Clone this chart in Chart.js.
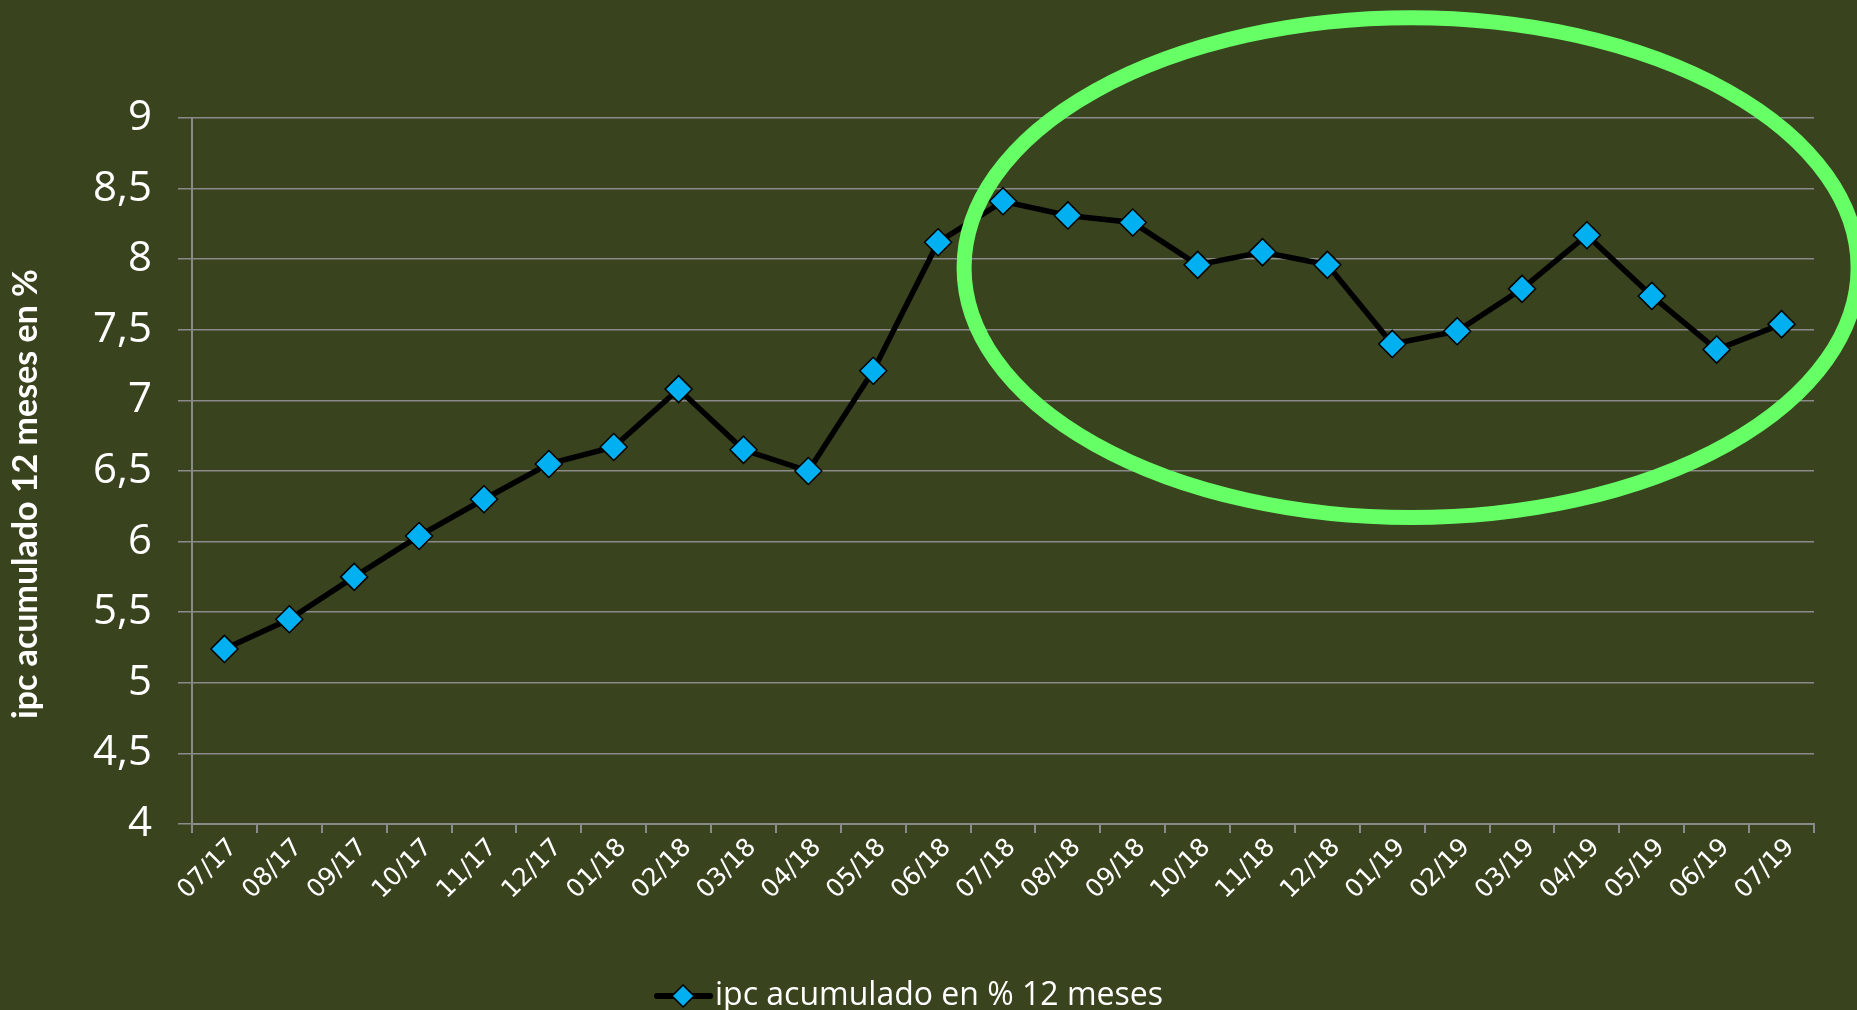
<!DOCTYPE html>
<html lang="es">
<head>
  <meta charset="UTF-8">
  <title>IPC acumulado 12 meses</title>
  <style>
    html, body {
      margin: 0;
      padding: 0;
      background-color: #39431e;
    }
    .chart-box {
      width: 1857px;
      height: 1010px;
    }
  </style>
</head>
<body>
  <div class="chart-box">
    <canvas id="ipcChart"></canvas>
  </div>
  <script src="https://cdn.jsdelivr.net/npm/chart.js"></script>
  <script>
    // Data
    const months = ['07/17', '08/17', '09/17', '10/17', '11/17', '12/17',
      '01/18', '02/18', '03/18', '04/18', '05/18', '06/18',
      '07/18', '08/18', '09/18', '10/18', '11/18', '12/18',
      '01/19', '02/19', '03/19', '04/19', '05/19', '06/19', '07/19'];
    const ipcValues = [5.24, 5.45, 5.75, 6.04, 6.30, 6.55,
      6.67, 7.08, 6.65, 6.50, 7.21, 8.12,
      8.41, 8.31, 8.26, 7.96, 8.05, 7.96,
      7.40, 7.49, 7.79, 8.17, 7.74, 7.36, 7.54];
    const yMin = 4;
    const yMax = 9;
    const yStep = 0.5;
    const seriesLabel = 'ipc acumulado en % 12 meses';
    const axisTitle = 'ipc acumulado 12 meses en %';

    // green ring round the last year (category index / value units)
    const ringCenterIndex = 18.29;
    const ringCenterValue = 7.94;
    const ringRadiusIndex = 6.89;
    const ringRadiusValue = 1.77;

    const gridColor = '#8a8a8a';
    const markerColor = '#00b0f0';

    // legend glyph: short black line with a blue diamond
    // (wider canvas so the glyph sits left of where Chart.js centres it)
    const legendGlyph = document.createElement('canvas');
    legendGlyph.width = 80;
    legendGlyph.height = 26;
    (function () {
      const g = legendGlyph.getContext('2d');
      g.strokeStyle = '#000';
      g.lineWidth = 6;
      g.lineCap = 'round';
      g.beginPath();
      g.moveTo(22, 13);
      g.lineTo(75, 13);
      g.stroke();
      g.beginPath();
      g.moveTo(48, 2);
      g.lineTo(59, 13);
      g.lineTo(48, 24);
      g.lineTo(37, 13);
      g.closePath();
      g.fillStyle = markerColor;
      g.fill();
      g.lineWidth = 1.5;
      g.stroke();
    })();

    const ringPlugin = {
      id: 'ring',
      afterDatasetsDraw(chart) {
        const { ctx, scales: { x, y } } = chart;
        const cx = x.getPixelForValue(ringCenterIndex);
        const cy = y.getPixelForValue(ringCenterValue);
        const rx = x.getPixelForValue(ringCenterIndex + ringRadiusIndex) - cx;
        const ry = cy - y.getPixelForValue(ringCenterValue + ringRadiusValue);
        ctx.save();
        ctx.strokeStyle = '#66ff66';
        ctx.lineWidth = 15;
        ctx.beginPath();
        ctx.ellipse(cx, cy, rx, ry, 0, 0, Math.PI * 2);
        ctx.stroke();
        ctx.restore();
      }
    };

    const axisTitlePlugin = {
      id: 'axisTitle',
      afterDraw(chart) {
        const ctx = chart.ctx;
        ctx.save();
        ctx.translate(26, 494);
        ctx.rotate(-Math.PI / 2);
        ctx.fillStyle = '#ffffff';
        ctx.font = 'bold 34px Lato, "Open Sans", sans-serif';
        ctx.textAlign = 'center';
        ctx.textBaseline = 'middle';
        ctx.fillText(axisTitle, 0, 0);
        ctx.restore();
      }
    };

    const ctxLine = document.getElementById('ipcChart').getContext('2d');
    new Chart(ctxLine, {
      type: 'line',
      data: {
        labels: months,
        datasets: [{
          label: seriesLabel,
          data: ipcValues,
          borderColor: '#000000',
          borderWidth: 5.5,
          tension: 0,
          pointStyle: 'rectRot',
          pointRadius: 13.5,
          pointBackgroundColor: markerColor,
          pointBorderColor: '#000000',
          pointBorderWidth: 1.5
        }]
      },
      options: {
        responsive: true,
        maintainAspectRatio: false,
        animation: false,
        layout: {
          padding: { left: 0, right: 43, top: 118, bottom: -12 }
        },
        scales: {
          x: {
            offset: true,
            grid: {
              offset: true,
              drawOnChartArea: false,
              tickLength: 9,
              color: gridColor,
              lineWidth: 2
            },
            border: { color: gridColor, width: 2 },
            ticks: {
              color: '#ffffff',
              font: { family: '"DejaVu Sans"', size: 25 },
              maxRotation: 45,
              minRotation: 45,
              autoSkip: false,
              padding: 0,
              labelOffset: 9
            },
            afterFit(scale) { scale.height = 156; }
          },
          y: {
            min: yMin,
            max: yMax,
            ticks: {
              stepSize: yStep,
              color: '#ffffff',
              font: { family: '"Open Sans"', size: 42 },
              padding: 26,
              callback: v => String(v).replace('.', ',')
            },
            grid: {
              color: gridColor,
              lineWidth: 1.5,
              tickLength: 14
            },
            border: { color: gridColor, width: 2 },
            afterFit(scale) { scale.width = 192; }
          }
        },
        plugins: {
          legend: {
            position: 'bottom',
            labels: {
              color: '#ffffff',
              font: { family: '"Open Sans"', size: 32 },
              usePointStyle: true,
              pointStyle: legendGlyph,
              pointStyleWidth: 48,
              padding: 0
            }
          },
          tooltip: { enabled: false }
        }
      },
      plugins: [ringPlugin, axisTitlePlugin]
    });
  </script>
</body>
</html>
